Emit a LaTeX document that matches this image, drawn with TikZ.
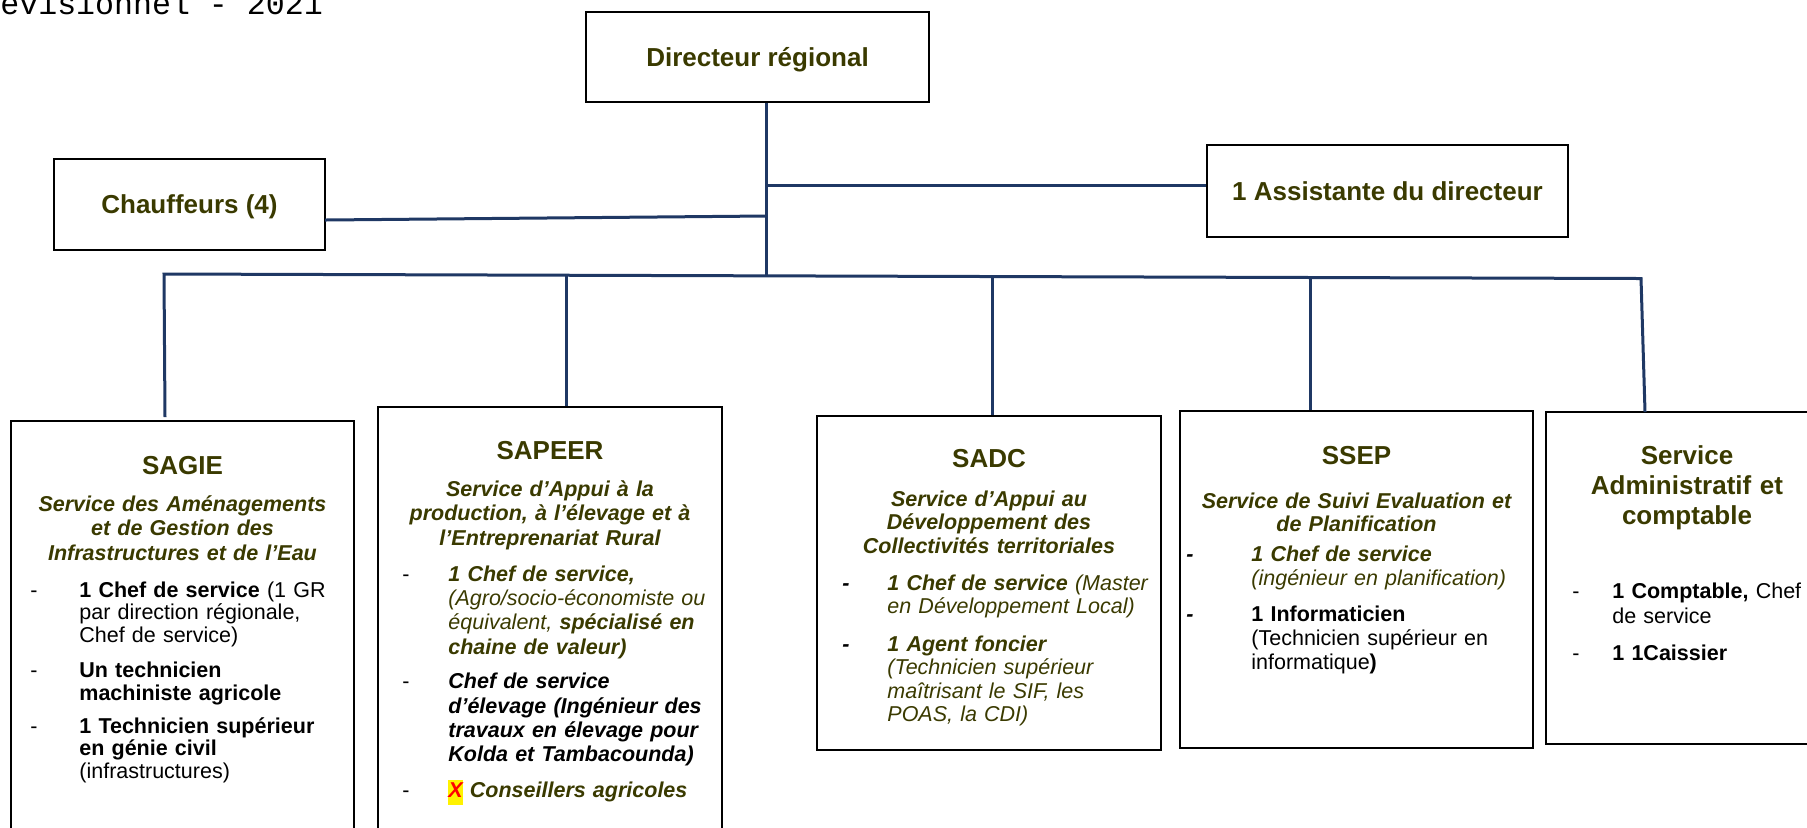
\documentclass[tikz,border=0pt]{standalone}
\usepackage{fontspec}
\setmainfont{Liberation Sans}
\newfontfamily\monofnt{Liberation Mono}
\usetikzlibrary{fit}
\definecolor{olv}{RGB}{58,58,0}
\definecolor{lnblue}{RGB}{31,56,100}
\newlength\itmind
\newcommand\itm[2][-]{\noindent\hangindent=\itmind\hangafter=1\makebox[\itmind][l]{#1}{#2}\par}
\newcommand\bdash{\textbf{\textit{-}}}
\newcommand\hlx{{\setlength\fboxsep{0pt}\colorbox{yellow}{\strut\textcolor{red}{X}}}}
\newcommand\bodyf[1]{\fontsize{10.75pt}{#1}\selectfont}
\begin{document}
\begin{tikzpicture}[x=0.5pt,y=-0.5pt,
  box/.style={draw=black,line width=1pt,inner sep=0pt},
  conn/.style={draw=lnblue,line width=1.5pt,line join=miter},
  ttlf/.style={text=olv,font=\fontsize{13pt}{15pt}\selectfont\bfseries},
  ttl/.style={ttlf,inner sep=0pt,anchor=base},
  hbox/.style={box,ttlf,text height=9.3pt,text depth=0pt},
  sub/.style={inner sep=0pt,text=olv,align=center,anchor=base},
  lst/.style={inner sep=0pt,anchor=base west,text width=240pt,align=left},
]
\useasboundingbox (0,0) rectangle (1807,827);

% header fragment
\node[anchor=base west,inner sep=0pt,font=\monofnt\fontsize{15.8pt}{16pt}\selectfont] (hdr) at (0,14) {evisionnel - 2021};

% top boxes
\node[hbox,minimum width=171.5pt,minimum height=45pt] (dir) at (757.5,57) {Directeur régional};
\node[hbox,minimum width=135.5pt,minimum height=45.5pt] (chf) at (189.5,204.5) {Chauffeurs (4)};
\node[hbox,minimum width=180.5pt,minimum height=46pt] (asst) at (1387.5,191) {1 Assistante du directeur};

% service boxes
\node[box,fit={(11,421) (354,845)}] (sagie) {};
\node[box,fit={(378,407) (722,845)}] (sapeer) {};
\node[box,fit={(817,416) (1161,750)}] (sadc) {};
\node[box,fit={(1180,411) (1533,748)}] (ssep) {};
\node[box,fit={(1546,412) (1828,744)}] (sadm) {};

% connectors
\coordinate (jA) at (766,185);
\coordinate (jC) at (766,216);
\coordinate (jB) at (766,275.5);
\coordinate (cL) at (325,220);
\coordinate (b1) at (164,274);
\coordinate (b2) at (566,275.5);
\coordinate (b3) at (992,276.5);
\coordinate (b4) at (1310,277.5);
\coordinate (b5) at (1641,278.5);
\coordinate (t1) at (165,417);
\coordinate (t5) at (1645,412);
\draw[conn] (dir.south -| jB) -- (jB);
\draw[conn] (jA) -- (jA -| asst.west);
\draw[conn] (cL) -- (jC);
\draw[conn] (t1) -- (b1) -- (b5) -- (t5);
\draw[conn] (b2) -- (b2 |- sapeer.north);
\draw[conn] (b3) -- (b3 |- sadc.north);
\draw[conn] (b4) -- (b4 |- ssep.north);

% SAGIE
\node[ttl] (sagieT) at (182.5,474) {SAGIE};
\node[sub,text width=165pt,font=\bodyf{12.25pt}\bfseries\itshape] (sagieS) at (182.5,511)
  {Service des Aménagements\\et de Gestion des\\Infrastructures et de l’Eau};
\node[lst,font=\bodyf{11.4pt}] (sagieL) at (30,597) {\setlength\itmind{24.5pt}%
  \itm{\textbf{1 Chef de service} (1 GR\newline par direction régionale,\newline Chef de service)}\vspace{6pt}%
  \itm{\textbf{Un technicien\newline machiniste agricole}}\vspace{5pt}%
  \itm{\textbf{1 Technicien supérieur\newline en génie civil}\newline (infrastructures)}};

% SAPEER
\node[ttl] (sapeerT) at (550,459) {SAPEER};
\node[sub,text width=170pt,font=\bodyf{12.25pt}\bfseries\itshape] (sapeerS) at (550,496)
  {Service d’Appui à la\\production, à l’élevage et à\\l’Entreprenariat Rural};
\node[lst,font=\bodyf{12.2pt}] (sapeerL) at (402,581) {\setlength\itmind{23pt}%
  \itm{\color{olv}\itshape\textbf{1 Chef de service,}\newline (Agro/socio-économiste ou\newline équivalent, \textbf{spécialisé en}\newline \textbf{chaine de valeur)}}\vspace{5pt}%
  \itm{\bfseries\itshape Chef de service\newline d’élevage (Ingénieur des\newline travaux en élevage pour\newline Kolda et Tambacounda)}\vspace{5.5pt}%
  \itm{\bfseries\itshape\hlx{} \textcolor{olv}{Conseillers agricoles}}};

% SADC
\node[ttl] (sadcT) at (989,467) {SADC};
\node[sub,text width=170pt,font=\bodyf{11.75pt}\bfseries\itshape] (sadcS) at (989,506)
  {Service d’Appui au\\Développement des\\Collectivités territoriales};
\node[lst,font=\bodyf{11.75pt}] (sadcL) at (842,590) {\setlength\itmind{22.5pt}%
  \itm[\bdash]{\color{olv}\itshape\textbf{1 Chef de service} (Master\newline en Développement Local)}\vspace{7pt}%
  \itm[\bdash]{\color{olv}\itshape\textbf{1 Agent foncier}\newline (Technicien supérieur\newline maîtrisant le SIF, les\newline POAS, la CDI)}};

% SSEP
\node[ttl] (ssepT) at (1356.5,464) {SSEP};
\node[sub,text width=175pt,font=\bodyf{11.5pt}\bfseries\itshape] (ssepS) at (1356.5,508)
  {Service de Suivi Evaluation et\\de Planification};
\node[lst,font=\bodyf{12pt}] (ssepL) at (1186,561) {\setlength\itmind{32.5pt}%
  \itm[\bdash]{\color{olv}\itshape\textbf{1 Chef de service}\newline (ingénieur en planification)}\vspace{6pt}%
  \itm[\bdash]{\textbf{1 Informaticien}\newline (Technicien supérieur en\newline informatique\textbf{)}}};

% Service administratif
\node[ttlf,inner sep=0pt,anchor=base,text width=140pt,align=center] (sadmT) at (1687,464)
  {Service\\Administratif et\\comptable};
\node[lst,font=\bodyf{12.5pt}] (sadmL) at (1572,598) {\setlength\itmind{20pt}%
  \itm{\textbf{1 Comptable,} Chef\newline de service}\vspace{6pt}%
  \itm{\textbf{1 1Caissier}}};
\end{tikzpicture}
\end{document}
